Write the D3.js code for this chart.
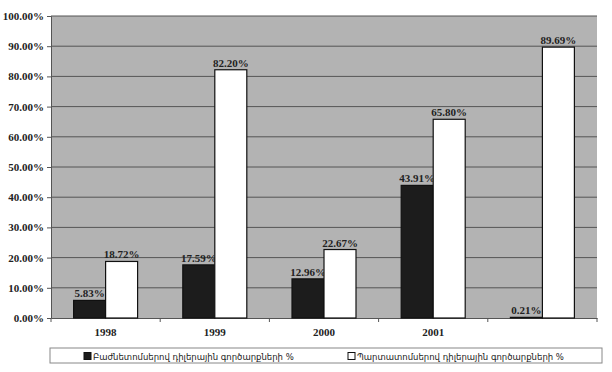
<!DOCTYPE html>
<html>
<head>
<meta charset="utf-8">
<script src="https://cdn.jsdelivr.net/npm/d3@7"></script>
<style>
  body { margin: 0; background: #fff; }
  svg text { font-family: "Liberation Serif", "DejaVu Serif", serif; }
</style>
</head>
<body>
<div class="container"></div>
<script>
var width = 612;
var height = 372;
var margin = {top: 16, right: 15, bottom: 54, left: 51};

// data
var years = ["1998", "1999", "2000", "2001", ""];
var shares = [5.83, 17.59, 12.96, 43.91, 0.21];   // Բաժնետոմսերով
var bonds = [18.72, 82.20, 22.67, 65.80, 89.69];  // Պարտատոմսերով
var seriesNames = ["Բաժնետոմսերով դիլերային  գործարքների %", "Պարտատոմսերով դիլերային գործարքների %"];
var seriesColors = ["#1c1c1c", "#ffffff"];
var yTicks = [0, 10, 20, 30, 40, 50, 60, 70, 80, 90, 100];

var bottomY = height - margin.bottom;

var xScale = d3.scaleBand().domain(d3.range(years.length)).range([margin.left, width - margin.right]);
var barW = 32;
var yScale = d3.scaleLinear().domain([0, 100]).range([bottomY, margin.top]);

var svg = d3.select(".container").append("svg")
  .attr("width", width).attr("height", height);

// plot background
svg.append("rect")
  .attr("x", margin.left).attr("y", margin.top)
  .attr("width", width - margin.right - margin.left)
  .attr("height", bottomY - margin.top)
  .attr("fill", "#b3b3b3");

// grid
svg.selectAll(".grid").data(yTicks.slice(1)).enter()
  .append("line").attr("class", "grid")
  .attr("x1", margin.left).attr("x2", width - margin.right)
  .attr("y1", d => yScale(d)).attr("y2", d => yScale(d))
  .attr("stroke", "#555").attr("stroke-width", 1);

// y axis
var yAxis = d3.axisLeft(yScale).tickValues(yTicks)
  .tickFormat(d => d.toFixed(2) + "%").tickSize(4).tickPadding(3);
svg.append("g").attr("transform", "translate(" + margin.left + ",0)").call(yAxis)
  .call(g => g.select(".domain").attr("stroke", "#555"))
  .call(g => g.selectAll(".tick line").attr("stroke", "#555"))
  .call(g => g.selectAll("text").attr("font-size", 11).attr("font-weight", "bold")
    .attr("fill", "#222").style("font-family", "Liberation Serif"));

// x axis
var xAxis = d3.axisBottom(xScale).tickFormat(i => years[i]).tickSize(0).tickPadding(10);
var gx = svg.append("g").attr("transform", "translate(0," + bottomY + ")").call(xAxis);
gx.select(".domain").attr("stroke", "#555");
gx.selectAll("text").attr("font-size", 11).attr("font-weight", "bold")
  .attr("fill", "#222").style("font-family", "Liberation Serif");
// ticks between categories
gx.selectAll(".sep").data(d3.range(years.length + 1)).enter()
  .append("line").attr("class", "sep")
  .attr("x1", i => margin.left + i * xScale.step()).attr("x2", i => margin.left + i * xScale.step())
  .attr("y1", 0).attr("y2", 4).attr("stroke", "#555");

// bars
var groups = [shares, bonds];
groups.forEach(function(vals, s) {
  svg.selectAll(".bar" + s).data(vals).enter()
    .append("rect").attr("class", "bar" + s)
    .attr("x", (d, i) => xScale(i) + xScale.bandwidth() / 2 - barW + s * barW)
    .attr("y", d => yScale(d))
    .attr("width", barW)
    .attr("height", d => bottomY - yScale(d))
    .attr("fill", seriesColors[s])
    .attr("stroke", "#111").attr("stroke-width", 1.2);

  svg.selectAll(".lab" + s).data(vals).enter()
    .append("text").attr("class", "lab" + s)
    .attr("x", (d, i) => xScale(i) + xScale.bandwidth() / 2 - barW / 2 + s * barW)
    .attr("y", d => yScale(d) - 3)
    .attr("text-anchor", "middle")
    .attr("font-size", 11).attr("font-weight", "bold").attr("fill", "#222")
    .text(d => d.toFixed(2) + "%");
});

// legend
var legend = svg.append("g");
legend.append("rect")
  .attr("x", 50).attr("y", 348).attr("width", 552).attr("height", 15)
  .attr("fill", "#fff").attr("stroke", "#888");
var legX = [84, 348];
seriesNames.forEach(function(name, s) {
  legend.append("rect")
    .attr("x", legX[s]).attr("y", 352.5).attr("width", 7).attr("height", 7)
    .attr("fill", seriesColors[s]).attr("stroke", "#111");
  legend.append("text")
    .attr("x", legX[s] + 9).attr("y", 359.5)
    .attr("font-size", 8.5).attr("fill", "#222")
    .style("font-family", "DejaVu Sans")
    .text(name);
});
</script>
</body>
</html>
